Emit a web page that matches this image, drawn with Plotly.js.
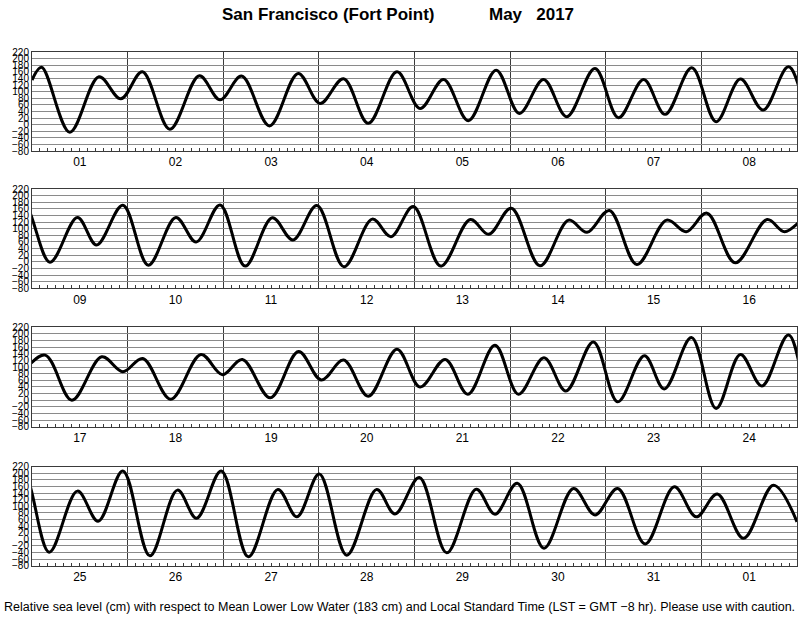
<!DOCTYPE html>
<html><head><meta charset="utf-8">
<script src="https://cdn.plot.ly/plotly-3.0.1.min.js"></script>
<style>html,body{margin:0;padding:0;background:#fff;}#chart{width:800px;height:618px;}</style>
</head><body><div id="chart"></div>
<script>
// ---- data ----
const stationTitle = 'San Francisco (Fort Point)';
const monthTitle = 'May&nbsp;&nbsp;&nbsp;2017';
const footnote = 'Relative sea level (cm) with respect to Mean Lower Low Water (183 cm) and Local Standard Time (LST = GMT \u22128 hr). Please use with caution.';
const seriesStart = Date.UTC(2017, 4, 1);          // 2017-05-01 00:00 LST
const panelStarts = ['2017-05-01', '2017-05-09', '2017-05-17', '2017-05-25'];
const panelEnds   = ['2017-05-09', '2017-05-17', '2017-05-25', '2017-06-02'];
// hours since 2017-05-01 00:00 of high / low waters (plus the two ends)
const tideHours = [
  0, 2.4, 9.5, 16.8, 22.3, 27.7, 34.6, 42.0, 47.2, 52.6, 59.6, 66.8, 72.3, 78.2, 84.4, 91.6,
  97.4, 103.3, 109.5, 116.5, 122.3, 128.4, 134.2, 141.3, 147.2, 153.5, 158.9, 165.6, 171.7, 177.8, 183.5, 189.9,
  196.5, 203.4, 208.2, 214.8, 221.2, 228.1, 233.2, 239.2, 245.5, 252.3, 257.5, 263.5, 270.3, 277.4, 282.1, 287.7,
  294.6, 302.0, 306.6, 312.3, 319.5, 326.7, 331.3, 336.9, 343.8, 351.3, 356.2, 361.4, 368.5, 376.5, 380.9,
  387.3, 394.0, 401.5, 406.8, 411.8, 418.8, 426.4, 431.8, 436.8, 443.8, 450.9, 456.6, 462.2, 468.4, 475.6, 481.4,
  487.7, 493.4, 500.2, 506.1, 512.5, 518.0, 524.9, 531.0, 537.7, 542.7, 549.5, 555.7, 561.8, 567.2, 573.9,
  580.3, 587.4, 592.6, 598.8, 605.6, 612.5, 617.3, 623.5, 630.3, 637.7, 642.5, 648.1, 655.0, 662.5, 667.1, 673.2,
  680.1, 687.5, 692.2, 697.8, 704.5, 711.9, 717.3, 723.0, 729.9, 737.2, 742.7, 748.0, 754.6, 762.1, 768
];
// sea level (cm above MLLW)
const tideLevels = [
  135, 174, -23, 145, 78, 160, -14, 148, 75, 147, -4, 155, 64, 139, 4, 160,
  49, 137, 12, 165, 34, 137, 24, 170, 21, 137, 31, 172, 9, 138, 44, 175,
  -1, 134, 51, 171, -10, 134, 60, 172, -13, 133, 66, 170, -15, 129, 76, 167,
  -13, 128, 83, 162, -12, 126, 89, 155, -8, 126, 91, 147, -3, 128, 91,
  136, 0, 131, 86, 126, 3, 138, 77, 123, 7, 147, 61, 121, 12, 154, 40,
  123, 18, 166, 18, 128, 28, 176, -5, 134, 34, 189, -25, 138, 43, 197,
  -39, 146, 55, 207, -50, 149, 64, 207, -53, 151, 68, 198, -48, 151, 77, 187,
  -41, 152, 76, 170, -27, 154, 74, 154, -14, 159, 68, 137, 3, 164, 53
];
const yMin = -80, yMax = 220, yStep = 20;

// ---- build ----
const toDate = h => new Date(seriesStart + h * 3600000).toISOString().replace('T', ' ').replace('Z', '');
const tideX = tideHours.map(toDate);

// pixel geometry of the four panels (figure 800 x 618, margins 0)
const H = 618;
const panelPx = [[52, 151], [189, 288.3], [327.3, 426.7], [466.7, 565.7]];

const data = [];
const layout = {
  width: 800, height: 618,
  margin: {l: 32, r: 3, t: 0, b: 0},
  paper_bgcolor: '#fff', plot_bgcolor: '#fff',
  showlegend: false,
  font: {family: 'Liberation Sans, Arial, sans-serif', color: '#000'},
  annotations: [],
  shapes: []
};

panelStarts.forEach((ps, i) => {
  const n = i === 0 ? '' : String(i + 1);
  data.push({
    x: tideX, y: tideLevels, type: 'scatter', mode: 'lines',
    xaxis: 'x' + n, yaxis: 'y' + n,
    line: {color: '#000', width: 3, shape: 'spline', smoothing: 1},
    hoverinfo: 'skip'
  });
  const [top, bot] = panelPx[i];
  layout['xaxis' + n] = {
    type: 'date', range: [ps, panelEnds[i]], anchor: 'y' + n, domain: [0, 1],
    tick0: ps, dtick: 86400000, tickformat: '%d', ticklabelmode: 'period',
    ticks: '', showgrid: true, gridcolor: '#3a3a3a', gridwidth: 1,
    showline: true, mirror: true, linecolor: '#3a3a3a', linewidth: 1,
    zeroline: false, tickfont: {size: 12, color: '#000'},
    minor: {tick0: ps, dtick: 7200000, ticks: 'inside', ticklen: 3, tickwidth: 1, tickcolor: '#3a3a3a', showgrid: false}
  };
  layout['yaxis' + n] = {
    range: [yMin, yMax], anchor: 'x' + n,
    domain: [1 - bot / H, 1 - top / H],
    tick0: 0, dtick: yStep, ticks: '', showgrid: true, gridcolor: '#8a8a8a', gridwidth: 1,
    showline: true, mirror: true, linecolor: '#3a3a3a', linewidth: 1,
    zeroline: false, tickfont: {size: 10, color: '#000'}
  };
});

layout.annotations.push(
  {text: '<b>' + stationTitle + '</b>', xref: 'paper', yref: 'paper',
   x: (220 - 32) / 765, y: 1 - 15 / H, xanchor: 'left', yanchor: 'middle', showarrow: false,
   font: {size: 17, color: '#000'}},
  {text: '<b>' + monthTitle + '</b>', xref: 'paper', yref: 'paper',
   x: (487 - 32) / 765, y: 1 - 15 / H, xanchor: 'left', yanchor: 'middle', showarrow: false,
   font: {size: 17, color: '#000'}},
  {text: footnote, xref: 'paper', yref: 'paper',
   x: (399 - 32) / 765, y: 1 - 607 / H, xanchor: 'center', yanchor: 'middle', showarrow: false,
   font: {size: 12.5, color: '#000'}}
);

Plotly.newPlot('chart', data, layout, {staticPlot: true, displayModeBar: false});
</script>
</body></html>
